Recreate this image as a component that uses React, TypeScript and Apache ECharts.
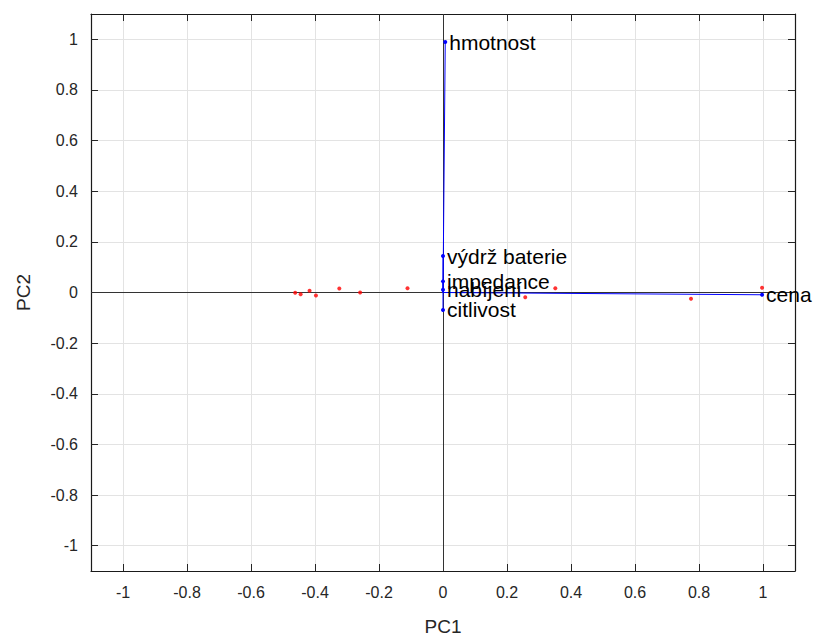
import React, { useEffect, useRef } from "react";
import * as echarts from "echarts";

const tickValues = [-1, -0.8, -0.6, -0.4, -0.2, 0, 0.2, 0.4, 0.6, 0.8, 1];
const scoresX = [-0.462, -0.445, -0.417, -0.397, -0.324, -0.259, -0.111, 0.257, 0.351, 0.775, 0.997];
const scoresY = [-0.001, -0.007, 0.007, -0.012, 0.016, 0.0, 0.017, -0.019, 0.017, -0.025, 0.019];
const variables = ["hmotnost", "výdrž baterie", "impedance", "nabíjení", "citlivost", "cena"];
const loadX = [0.007, 0.0, 0.0, 0.0, 0.0, 0.997];
const loadY = [0.989, 0.144, 0.044, 0.011, -0.069, -0.009];

const tickFont = "'Liberation Sans Narrow', 'Liberation Sans', Arial, sans-serif";
const labelFont = "'Liberation Sans', Arial, sans-serif";

export default function App() {
  const ref = useRef<HTMLDivElement>(null);
  useEffect(() => {
    if (!ref.current) return;
    const chart = echarts.init(ref.current, null, { renderer: "svg" });
    const fmt = (v: number) => String(Math.round(v * 10) / 10);
    const baseAxis = (pos: string, name: string, nameGap: number, main: boolean) => ({
      type: "value",
      position: pos,
      min: -1.1,
      max: 1.1,
      name: main ? name : "",
      nameLocation: "middle",
      nameGap,
      nameTextStyle: { fontFamily: tickFont, fontSize: 19, color: "#262626" },
      axisLine: { show: true, onZero: false, lineStyle: { color: "#1a1a1a", width: 1.2 } },
      axisTick: { show: true, inside: true, length: 7, customValues: tickValues, lineStyle: { color: "#262626" } },
      axisLabel: {
        show: main,
        customValues: tickValues,
        formatter: fmt,
        fontFamily: tickFont,
        fontSize: 16,
        color: "#262626",
        margin: 13,
      },
      splitLine: { show: main, lineStyle: { color: "#e3e3e3", width: 1 } },
    });
    const vectorSeries = variables.map((name, i) => ({
      type: "line",
      xAxisIndex: 0,
      yAxisIndex: 0,
      data: [
        [0, 0],
        [loadX[i], loadY[i]],
      ],
      lineStyle: { color: "#0000ff", width: 1 },
      symbol: "circle",
      symbolSize: (_v: any, p: any) => (p.dataIndex === 1 ? 4 : 0),
      showAllSymbol: true,
      itemStyle: { color: "#0000ff" },
      z: 3,
      clip: false,
      label: {
        show: true,
        position: "right",
        distance: 2,
        formatter: (p: any) => (p.dataIndex === 1 ? name : ""),
        fontFamily: labelFont,
        fontSize: 21,
        color: "#000",
      },
    }));
    const option = {
      animation: false,
      backgroundColor: "#fff",
      grid: { left: 91, top: 14, width: 704, height: 557, show: false, outerBoundsMode: "none", containLabel: false },
      xAxis: [baseAxis("bottom", "PC1", 46, true), baseAxis("top", "", 0, false)],
      yAxis: [baseAxis("left", "PC2", 58, true), baseAxis("right", "", 0, false)],
      series: [
        {
          type: "scatter",
          xAxisIndex: 0,
          yAxisIndex: 0,
          data: scoresX.map((x, i) => [x, scoresY[i]]),
          symbolSize: 4,
          itemStyle: { color: "#ff0000" },
          z: 4,
          markLine: {
            silent: true,
            symbol: "none",
            label: { show: false },
            lineStyle: { color: "#333", width: 1, type: "solid" },
            data: [{ xAxis: 0 }, { yAxis: 0 }],
            z: 2,
          },
        },
        ...vectorSeries,
      ],
    };
    chart.setOption(option as any);
    return () => chart.dispose();
  }, []);
  return (
    <div
      ref={ref}
      style={{ position: "fixed", left: 0, top: 0, width: 814, height: 637, background: "#fff" }}
    />
  );
}
